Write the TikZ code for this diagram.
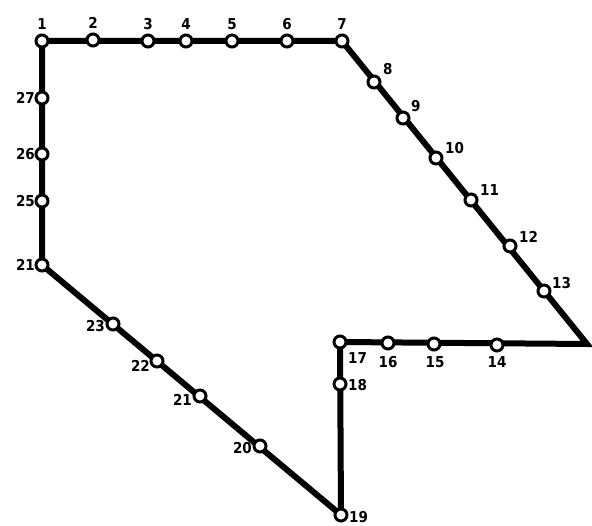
\documentclass[tikz,border=0pt]{standalone}
\usepackage{fontspec}
\setmainfont{DejaVu Sans}
\begin{document}
\begin{tikzpicture}[x=1pt,y=-1pt,
  stop/.style={circle,draw=black,fill=white,line width=3pt,minimum size=12pt,inner sep=0pt},
  lbl/.style={font=\fontspec{DejaVu Sans Condensed Bold}\fontsize{15}{15}\selectfont,inner sep=0pt},
  route/.style={line width=6pt,line join=miter}]
\useasboundingbox (0,0) rectangle (592,526);
\coordinate (c1) at (42,41);
\coordinate (c2) at (93,40);
\coordinate (c3) at (148,41);
\coordinate (c4) at (186,41);
\coordinate (c5) at (232,41);
\coordinate (c6) at (287,41);
\coordinate (c7) at (342,41);
\coordinate (c8) at (374,82);
\coordinate (c9) at (403,118);
\coordinate (c10) at (436,158);
\coordinate (c11) at (471,200);
\coordinate (c12) at (510,246);
\coordinate (c13) at (544,291);
\coordinate (corner) at (587,344);
\coordinate (c14) at (497,345);
\coordinate (c15) at (434,344);
\coordinate (c16) at (388,343);
\coordinate (c17) at (340,342);
\coordinate (c18) at (340,384);
\coordinate (c19) at (341,515);
\coordinate (c20) at (260,446);
\coordinate (c21) at (200,396);
\coordinate (c22) at (157,361);
\coordinate (c23) at (113,324);
\coordinate (c21b) at (42,265);
\coordinate (c25) at (42,201);
\coordinate (c26) at (42,154);
\coordinate (c27) at (42,98);
\draw[route] (c1) -- (c7) -- (corner) -- (c17) -- (c19) -- (c21b) -- cycle;
\foreach \c in {c1,c2,c3,c4,c5,c6,c7,c8,c9,c10,c11,c12,c13,c14,c15,c16,c17,c18,c19,c20,c21,c22,c23,c21b,c25,c26,c27}
  \node[stop] (n\c) at (\c) {};
\node[lbl,anchor=south] (l1) at (42,30) {1};
\node[lbl,anchor=south] (l2) at (93,29) {2};
\node[lbl,anchor=south] (l3) at (148,30) {3};
\node[lbl,anchor=south] (l4) at (186,30) {4};
\node[lbl,anchor=south] (l5) at (232,30) {5};
\node[lbl,anchor=south] (l6) at (287,30) {6};
\node[lbl,anchor=south] (l7) at (342,30) {7};
\node[lbl,anchor=west] (l8) at (383,69) {8};
\node[lbl,anchor=west] (l9) at (411,106) {9};
\node[lbl,anchor=west] (l10) at (445,148) {10};
\node[lbl,anchor=west] (l11) at (480,190) {11};
\node[lbl,anchor=west] (l12) at (519,237) {12};
\node[lbl,anchor=west] (l13) at (552,283) {13};
\node[lbl,anchor=north] (l14) at (497,356) {14};
\node[lbl,anchor=north] (l15) at (435,356) {15};
\node[lbl,anchor=north] (l16) at (388,356) {16};
\node[lbl,anchor=north west] (l17) at (348,352) {17};
\node[lbl,anchor=west] (l18) at (348,385) {18};
\node[lbl,anchor=west] (l19) at (349,517) {19};
\node[lbl,anchor=east] (l20) at (252,448) {20};
\node[lbl,anchor=east] (l21) at (192,400) {21};
\node[lbl,anchor=east] (l22) at (150,366) {22};
\node[lbl,anchor=east] (l23) at (105,326) {23};
\node[lbl,anchor=east] (l21b) at (35,265) {21};
\node[lbl,anchor=east] (l25) at (35,201) {25};
\node[lbl,anchor=east] (l26) at (35,154) {26};
\node[lbl,anchor=east] (l27) at (35,98) {27};
\end{tikzpicture}
\end{document}
